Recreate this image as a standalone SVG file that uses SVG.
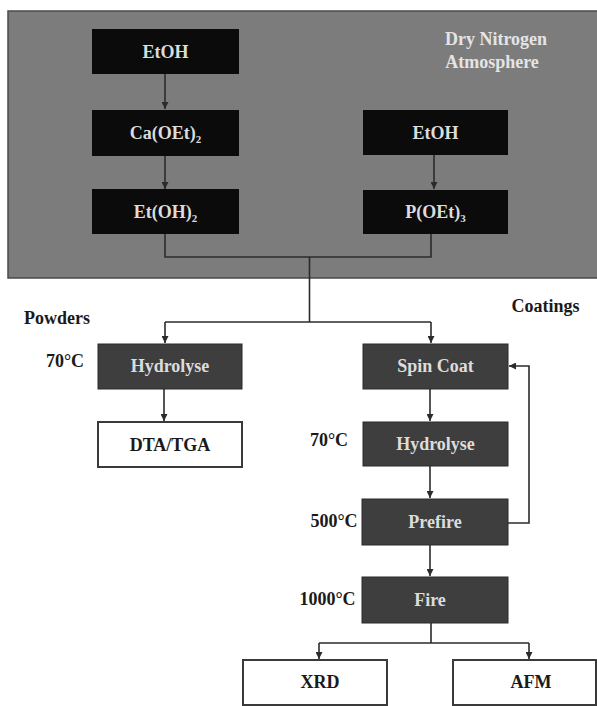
<svg xmlns="http://www.w3.org/2000/svg" width="597" height="706" viewBox="0 0 597 706">
<style>
text{font-family:"Liberation Serif","Times New Roman",serif;font-weight:bold;font-size:18px;text-anchor:middle}
.blk{fill:#0b0b0b}
.dg{fill:#3e3e3e;stroke:#2a2a2a;stroke-width:1}
.wh{fill:#ffffff;stroke:#3a3a3a;stroke-width:2}
.lt{fill:#dcdcdc}
.dk{fill:#1a1a1a}
.c{fill:none;stroke:#2b2b2b;stroke-width:1.6}
</style>
<defs>
<marker id="ah" viewBox="0 0 10 10" refX="10" refY="5" markerWidth="7" markerHeight="7" markerUnits="userSpaceOnUse" orient="auto">
<path d="M0,0 L10,5 L0,10 z" fill="#2b2b2b"/>
</marker>
</defs>
<rect id="atmosphere" x="8" y="11" width="590" height="267" fill="#7c7c7c" stroke="#4a4a4a" stroke-width="1.5"/>
<text x="496" y="45" class="lt" style="fill:#e4e4e4">Dry Nitrogen</text>
<text x="492" y="68" class="lt" style="fill:#e4e4e4">Atmosphere</text>

<g id="connectors">
<path class="c" d="M165,74 V109" marker-end="url(#ah)"/>
<path class="c" d="M165,156 V189" marker-end="url(#ah)"/>
<path class="c" d="M434,155 V189" marker-end="url(#ah)"/>
<path class="c" d="M165,234 V257 H431 V234"/>
<path class="c" d="M309.5,257 V322"/>
<path class="c" d="M165,322 H431"/>
<path class="c" d="M165,322 V343" marker-end="url(#ah)"/>
<path class="c" d="M431,322 V343" marker-end="url(#ah)"/>
<path class="c" d="M164,389 V421" marker-end="url(#ah)"/>
<path class="c" d="M430,389 V421" marker-end="url(#ah)"/>
<path class="c" d="M430,466 V498" marker-end="url(#ah)"/>
<path class="c" d="M430,545 V576" marker-end="url(#ah)"/>
<path class="c" d="M508,523 H529 V366 H509" marker-end="url(#ah)"/>
<path class="c" d="M431,623 V643 M319,643 H529"/>
<path class="c" d="M319,643 V659" marker-end="url(#ah)"/>
<path class="c" d="M529,643 V659" marker-end="url(#ah)"/>
</g>

<g id="etoh1"><rect class="blk" x="92" y="29" width="147" height="45"/><text class="lt" x="165.5" y="58">EtOH</text></g>
<g id="caoet"><rect class="blk" x="92" y="110" width="147" height="46"/><text class="lt" x="165.5" y="139">Ca(OEt)<tspan font-size="11" dy="4">2</tspan></text></g>
<g id="etoh2"><rect class="blk" x="92" y="189" width="147" height="45"/><text class="lt" x="165.5" y="218">Et(OH)<tspan font-size="11" dy="4">2</tspan></text></g>
<g id="etoh3"><rect class="blk" x="363" y="110" width="145" height="45"/><text class="lt" x="435.5" y="139">EtOH</text></g>
<g id="poet"><rect class="blk" x="363" y="190" width="145" height="44"/><text class="lt" x="435.5" y="218">P(OEt)<tspan font-size="11" dy="4">3</tspan></text></g>

<text class="dk" x="57" y="324">Powders</text>
<text class="dk" x="545.5" y="312">Coatings</text>

<g id="hydrolyse1"><rect class="dg" x="98" y="344" width="144" height="45"/><text class="lt" x="170" y="372">Hydrolyse</text><text class="dk" x="65" y="367">70°C</text></g>
<g id="dtatga"><rect class="wh" x="98" y="422" width="144" height="45"/><text class="dk" x="170" y="451">DTA/TGA</text></g>
<g id="spincoat"><rect class="dg" x="363" y="344" width="145" height="45"/><text class="lt" x="435.5" y="372">Spin Coat</text></g>
<g id="hydrolyse2"><rect class="dg" x="363" y="422" width="145" height="44"/><text class="lt" x="435.5" y="450">Hydrolyse</text><text class="dk" x="329" y="446">70°C</text></g>
<g id="prefire"><rect class="dg" x="362" y="499" width="146" height="46"/><text class="lt" x="435" y="528">Prefire</text><text class="dk" x="334" y="527">500°C</text></g>
<g id="fire"><rect class="dg" x="362" y="577" width="146" height="46"/><text class="lt" x="430" y="606">Fire</text><text class="dk" x="327.5" y="605">1000°C</text></g>
<g id="xrd"><rect class="wh" x="243" y="660" width="144" height="45"/><text class="dk" x="320" y="688">XRD</text></g>
<g id="afm"><rect class="wh" x="453" y="660" width="143" height="45"/><text class="dk" x="531" y="688">AFM</text></g>
</svg>
